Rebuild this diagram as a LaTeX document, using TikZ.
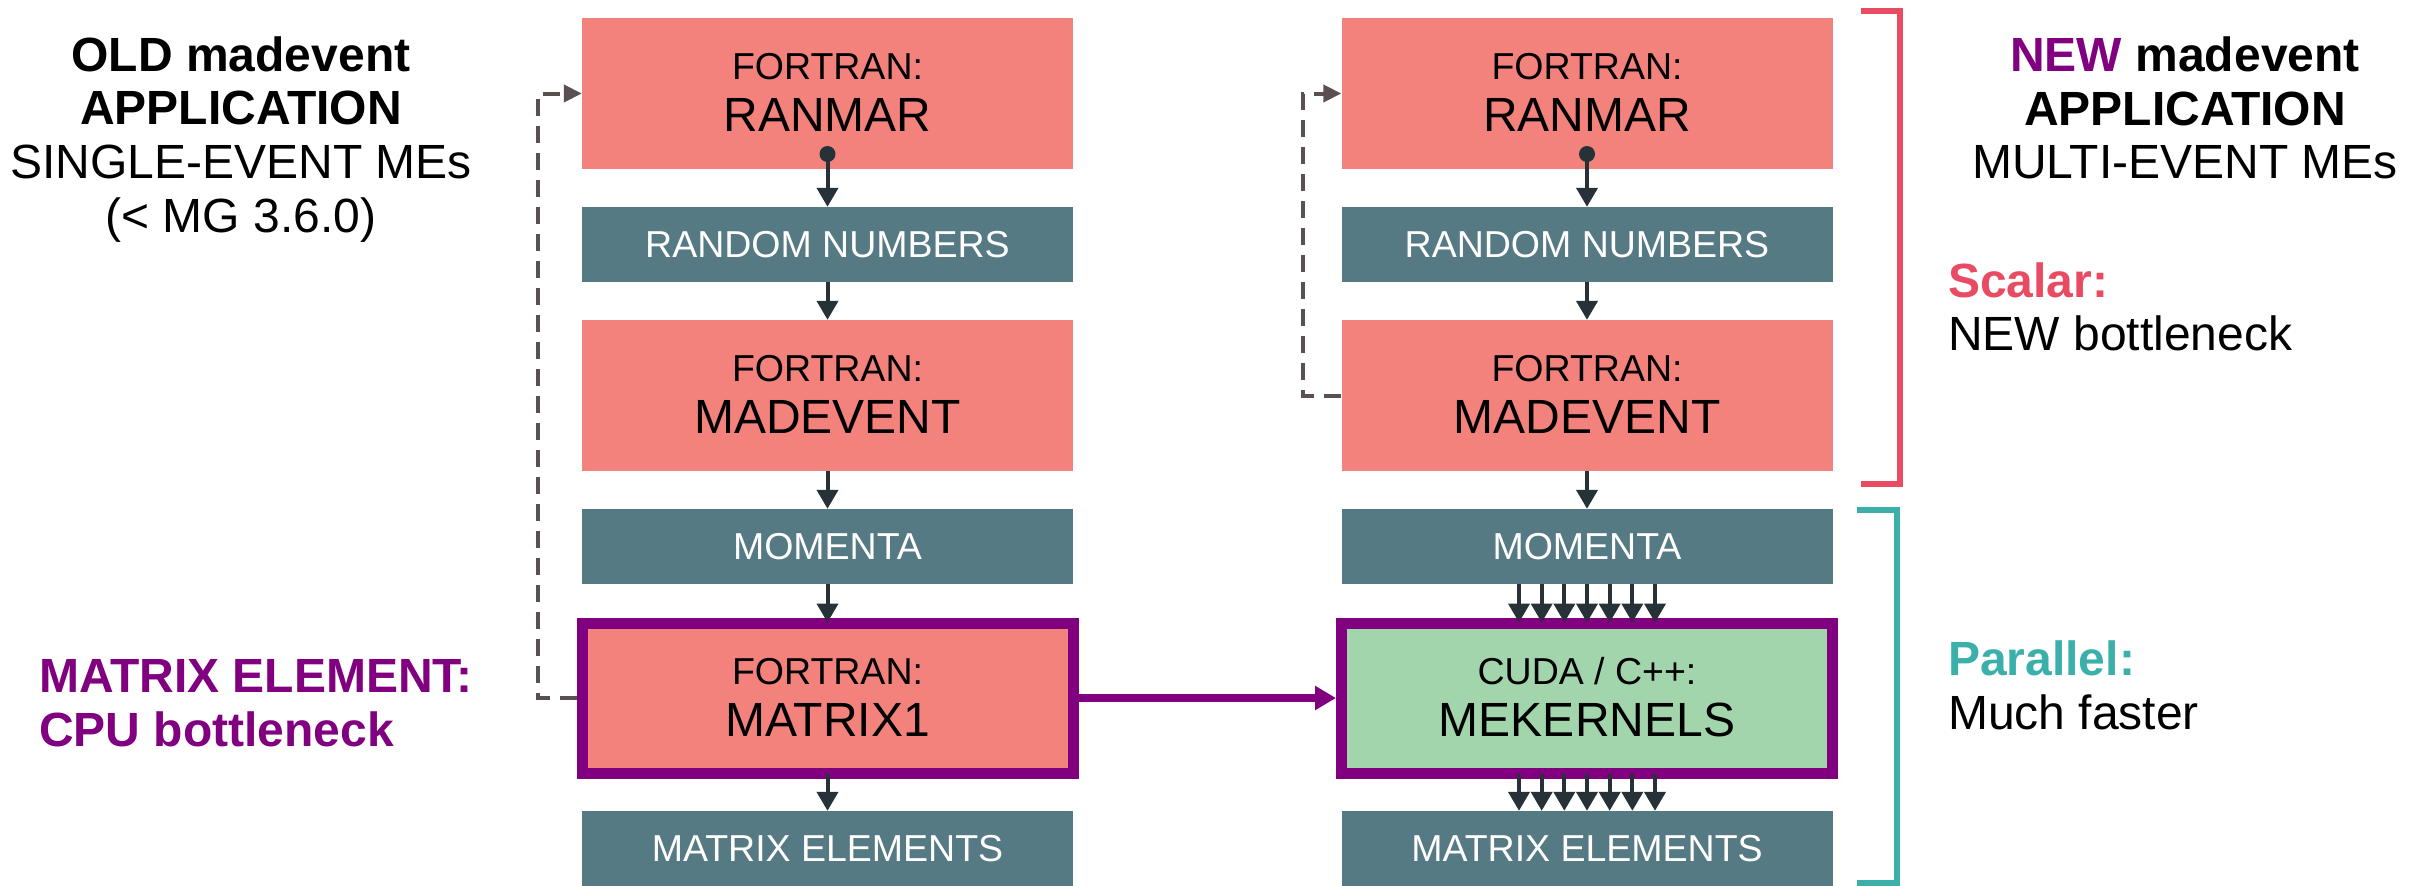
\documentclass[tikz,border=0pt]{standalone}
\usepackage{fontspec}
\setmainfont{Liberation Sans}
\usetikzlibrary{arrows.meta}

\definecolor{salmon}{HTML}{F4827C}
\definecolor{slate}{HTML}{567A83}
\definecolor{mint}{HTML}{A2D5AB}
\definecolor{plum}{HTML}{800080}
\definecolor{ink}{HTML}{263238}
\definecolor{dashgrey}{HTML}{5B5050}
\definecolor{scalarred}{HTML}{E94B63}
\definecolor{paralleltl}{HTML}{3BB0AB}

\begin{document}
\begin{tikzpicture}[x=1pt,y=-1pt,
  box/.style={minimum width=491pt, inner sep=0pt, draw=none},
  codebox/.style={box, fill=salmon, minimum height=151pt},
  databox/.style={box, fill=slate, minimum height=75pt},
  hotbox/.style={box, minimum height=150pt, draw=plum, line width=11pt},
  lab/.style={anchor=base, inner sep=0pt, font=\fontsize{37.5}{42}\selectfont},
  biglab/.style={anchor=base, inner sep=0pt, font=\fontsize{48}{52}\selectfont},
  whitelab/.style={lab, text=white},
  sidetext/.style={anchor=base, inner sep=0pt, font=\fontsize{48}{53}\selectfont},
  sideleft/.style={sidetext, anchor=base west},
  dotnode/.style={circle, fill=ink, minimum size=16pt, inner sep=0pt},
  flow/.style={draw=ink, line width=4pt, -{Triangle[length=19pt,width=21pt]}},
  hotlink/.style={draw=plum, line width=8pt, -{Triangle[length=21pt,width=23pt]}},
  dashlink/.style={draw=dashgrey, line width=4pt, dash pattern=on 17pt off 10pt,
                   -{Triangle[length=18pt,width=17pt]}},
  bracket/.style={line width=5.5pt}
]
\useasboundingbox (0,0) rectangle (2426,886);

% ---------- left column: single-event madevent ----------
\node[codebox] (ran1) at (827.5,93.5) {};
\node[databox] (rn1)  at (827.5,244.5) {};
\node[codebox] (mad1) at (827.5,395.5) {};
\node[databox] (mom1) at (827.5,546.5) {};
\node[hotbox, fill=salmon] (mat1) at (827.5,698) {};
\node[databox] (me1)  at (827.5,848.5) {};

\node[lab]    (ran1a) at ([yshift=14pt]ran1.center) {FORTRAN:};
\node[biglab] (ran1b) at ([yshift=-38pt]ran1.center) {RANMAR};
\node[whitelab] (rn1a) at ([yshift=-13pt]rn1.center) {RANDOM NUMBERS};
\node[lab]    (mad1a) at ([yshift=14pt]mad1.center) {FORTRAN:};
\node[biglab] (mad1b) at ([yshift=-38pt]mad1.center) {MADEVENT};
\node[whitelab] (mom1a) at ([yshift=-13pt]mom1.center) {MOMENTA};
\node[lab]    (mat1a) at ([yshift=14pt]mat1.center) {FORTRAN:};
\node[biglab] (mat1b) at ([yshift=-38pt]mat1.center) {MATRIX1};
\node[whitelab] (me1a) at ([yshift=-13pt]me1.center) {MATRIX ELEMENTS};

\node[dotnode] (ran1dot) at ([yshift=-60.5pt]ran1.center) {};
\draw[flow] (ran1dot.center) -- (rn1.north);
\draw[flow] (rn1.south) -- (mad1.north);
\draw[flow] (mad1.south) -- (mom1.north);
\draw[flow] (mom1.south) -- ([yshift=-5pt]mat1.north);
\draw[flow] ([yshift=5pt]mat1.south) -- (me1.north);

\draw[dashlink] (mat1.west) -| ([xshift=-44pt]ran1.west) -- (ran1.west);

% ---------- right column: multi-event madevent ----------
\node[codebox] (ran2) at (1587,93.5) {};
\node[databox] (rn2)  at (1587,244.5) {};
\node[codebox] (mad2) at (1587,395.5) {};
\node[databox] (mom2) at (1587,546.5) {};
\node[hotbox, fill=mint] (mek) at (1587,698) {};
\node[databox] (me2)  at (1587,848.5) {};

\node[lab]    (ran2a) at ([yshift=14pt]ran2.center) {FORTRAN:};
\node[biglab] (ran2b) at ([yshift=-38pt]ran2.center) {RANMAR};
\node[whitelab] (rn2a) at ([yshift=-13pt]rn2.center) {RANDOM NUMBERS};
\node[lab]    (mad2a) at ([yshift=14pt]mad2.center) {FORTRAN:};
\node[biglab] (mad2b) at ([yshift=-38pt]mad2.center) {MADEVENT};
\node[whitelab] (mom2a) at ([yshift=-13pt]mom2.center) {MOMENTA};
\node[lab]    (meka)  at ([yshift=14pt]mek.center) {CUDA / C++:};
\node[biglab] (mekb)  at ([yshift=-38pt]mek.center) {MEKERNELS};
\node[whitelab] (me2a) at ([yshift=-13pt]me2.center) {MATRIX ELEMENTS};

\node[dotnode] (ran2dot) at ([yshift=-60.5pt]ran2.center) {};
\draw[flow] (ran2dot.center) -- (rn2.north);
\draw[flow] (rn2.south) -- (mad2.north);
\draw[flow] (mad2.south) -- (mom2.north);
\foreach \dx in {-68,-45.33,-22.67,0,22.67,45.33,68} {
  \draw[flow] ([xshift=\dx pt]mom2.south) -- ([xshift=\dx pt, yshift=-5pt]mek.north);
  \draw[flow] ([xshift=\dx pt, yshift=5pt]mek.south) -- ([xshift=\dx pt]me2.north);
}

\draw[dashlink] (mad2.west) -| ([xshift=-38pt]ran2.west) -- (ran2.west);

% ---------- port of the matrix element ----------
\draw[hotlink] (mat1.east) -- (mek.west);

% ---------- brackets ----------
\draw[bracket, scalarred]  (1861,11) -- (1900,11) -- (1900,484) -- (1861,484);
\draw[bracket, paralleltl] (1857,510) -- (1897,510) -- (1897,883) -- (1857,883);

% ---------- side captions ----------
\node[sidetext] (oldA) at (241,71)  {\bfseries OLD madevent};
\node[sidetext] (oldB) at (241,124) {\bfseries APPLICATION};
\node[sidetext] (oldC) at (241,178) {SINGLE-EVENT MEs};
\node[sidetext] (oldD) at (241,232) {(< MG 3.6.0)};

\node[sideleft, text=plum] (meA) at (39,692) {\bfseries MATRIX ELEMENT:};
\node[sideleft, text=plum] (meB) at (39,746) {\bfseries CPU bottleneck};

\node[sidetext] (newA) at (2185,71)  {\bfseries\textcolor{plum}{NEW} madevent};
\node[sidetext] (newB) at (2185,125) {\bfseries APPLICATION};
\node[sidetext] (newC) at (2185,178) {MULTI-EVENT MEs};

\node[sideleft, text=scalarred]  (scA) at (1948,297) {\bfseries Scalar:};
\node[sideleft]                  (scB) at (1948,350) {NEW bottleneck};
\node[sideleft, text=paralleltl] (paA) at (1948,675) {\bfseries Parallel:};
\node[sideleft]                  (paB) at (1948,729) {Much faster};
\end{tikzpicture}
\end{document}
